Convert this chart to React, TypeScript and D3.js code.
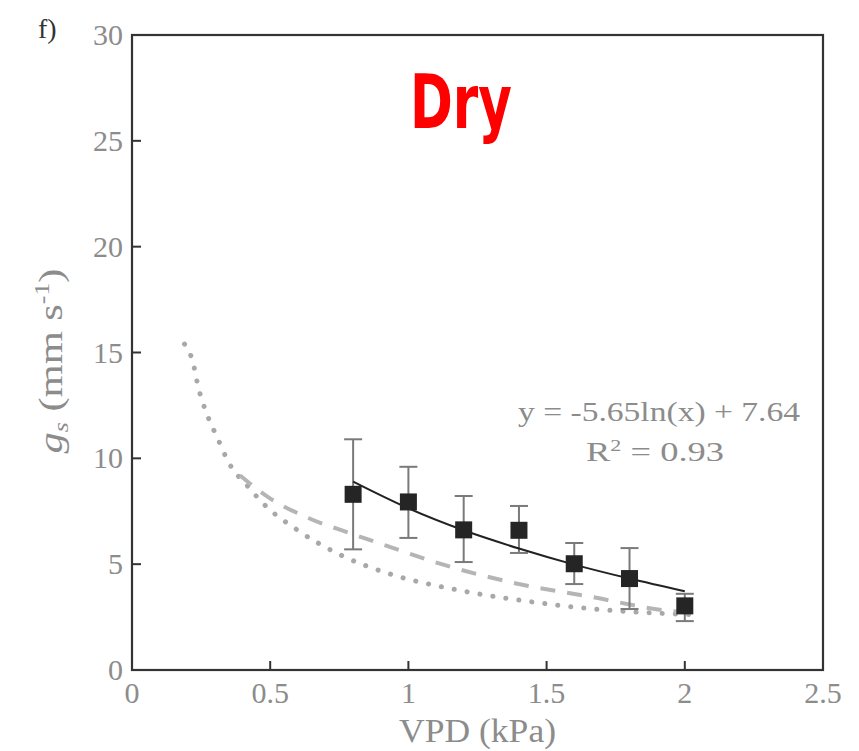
import React from 'react';
import * as d3 from 'd3';

// measured points (VPD, gs) with error bar limits
const vpd = [0.8, 1.0, 1.2, 1.4, 1.6, 1.8, 2.0];
const gsMean = [8.3, 7.94, 6.62, 6.6, 5.02, 4.32, 3.03];
const gsHigh = [10.9, 9.6, 8.22, 7.75, 6.0, 5.76, 3.6];
const gsLow = [5.7, 6.24, 5.1, 5.53, 4.06, 2.88, 2.31];

// fitted curve
const fitX = [0.8, 1.0, 1.2, 1.4, 1.6, 1.8, 2.0];
const fitY = [8.9, 7.64, 6.6, 5.74, 4.98, 4.32, 3.72];

// dashed reference curve
const dashX = [0.39, 0.49, 0.64, 0.79, 0.93, 1.12, 1.39, 1.66, 1.92, 2.02];
const dashY = [9.2, 8.19, 7.17, 6.46, 5.83, 5.0, 4.09, 3.46, 2.83, 2.7];

// dotted reference curve
const dotX = [0.19, 0.22, 0.24, 0.27, 0.31, 0.35, 0.42, 0.48, 0.6, 0.76, 0.93, 1.17, 1.44, 1.68, 1.85, 2.02];
const dotY = [15.4, 14.56, 13.35, 12.13, 10.94, 9.8, 8.66, 7.8, 6.6, 5.4, 4.55, 3.8, 3.23, 2.87, 2.72, 2.62];

const xTicks = [0, 0.5, 1, 1.5, 2, 2.5];
const yTicks = [0, 5, 10, 15, 20, 25, 30];

const W = 859;
const H = 751;
const left = 132;
const right = 823;
const top = 35;
const bottom = 670;

const App = () => {
  const x = d3.scaleLinear().domain([0, 2.5]).range([left, right]);
  const y = d3.scaleLinear().domain([0, 30]).range([bottom, top]);

  const line = d3.line<[number, number]>()
    .x(d => x(d[0]))
    .y(d => y(d[1]))
    .curve(d3.curveMonotoneX);

  const fitPath = line(fitX.map((v, i) => [v, fitY[i]]));
  const dashPath = line(dashX.map((v, i) => [v, dashY[i]]));
  const dotPath = line(dotX.map((v, i) => [v, dotY[i]]));

  const grey = '#8c8c8c';
  const axis = '#333';
  const serif = '"Liberation Serif", "Times New Roman", serif';

  return (
    <div style={{ position: 'absolute', left: 0, top: 0 }}>
      <svg width={W} height={H} style={{ display: 'block', background: '#fff' }}>
        {/* reference curves */}
        <path d={dotPath || ''} fill="none" stroke="#a8a8a8" strokeWidth={5}
          strokeDasharray="0.1 13" strokeLinecap="round" />
        <path d={dashPath || ''} fill="none" stroke="#b5b5b5" strokeWidth={4}
          strokeDasharray="15 12" />

        {/* error bars */}
        {vpd.map((v, i) => (
          <g key={'e' + i} stroke="#7a7a7a" strokeWidth={2}>
            <line x1={x(v)} x2={x(v)} y1={y(gsHigh[i])} y2={y(gsLow[i])} />
            <line x1={x(v) - 9} x2={x(v) + 9} y1={y(gsHigh[i])} y2={y(gsHigh[i])} />
            <line x1={x(v) - 9} x2={x(v) + 9} y1={y(gsLow[i])} y2={y(gsLow[i])} />
          </g>
        ))}

        {/* fit */}
        <path d={fitPath || ''} fill="none" stroke="#222" strokeWidth={2} />

        {/* points */}
        {vpd.map((v, i) => (
          <rect key={'p' + i} x={x(v) - 8.5} y={y(gsMean[i]) - 8.5} width={17} height={17} fill="#252525" />
        ))}

        {/* frame */}
        <rect x={left} y={top} width={right - left} height={bottom - top} fill="none" stroke={axis} strokeWidth={2.2} />
        {xTicks.map(t => (
          <g key={'xt' + t}>
            <line x1={x(t)} x2={x(t)} y1={bottom} y2={bottom - 9} stroke={axis} strokeWidth={2} />
            <text x={x(t)} y={703} textAnchor="middle" fontFamily={serif} fontSize={30} fill={grey}>{t}</text>
          </g>
        ))}
        {yTicks.map(t => (
          <g key={'yt' + t}>
            <line x1={left} x2={left + 9} y1={y(t)} y2={y(t)} stroke={axis} strokeWidth={2} />
            <text x={left - 9} y={y(t) + 10} textAnchor="end" fontFamily={serif} fontSize={30} fill={grey}>{t}</text>
          </g>
        ))}

        {/* axis titles */}
        <text x={(left + right) / 2} y={742} textAnchor="middle" fontFamily={serif} fontSize={33} fill={grey}
          textLength={157} lengthAdjust="spacingAndGlyphs">VPD (kPa)</text>
        <text transform="translate(62,361) rotate(-90)" textAnchor="middle" fontFamily={serif} fontSize={33} fill={grey}
          textLength={185} lengthAdjust="spacingAndGlyphs">
          <tspan fontStyle="italic">g</tspan>
          <tspan fontSize={20} fontStyle="italic" dy={6}>s</tspan>
          <tspan dy={-6}> (mm s</tspan>
          <tspan fontSize={20} dy={-13}>-1</tspan>
          <tspan dy={13}>)</tspan>
        </text>

        {/* panel letter */}
        <text x={38} y={38} fontFamily={serif} fontSize={28} fill="#333">f)</text>

        {/* condition */}
        <text x={410} y={128} fontFamily='"DejaVu Sans Condensed", "DejaVu Sans", sans-serif' fontWeight="bold"
          fontSize={74} fill="#ff0000" textLength={102} lengthAdjust="spacingAndGlyphs">Dry</text>

        {/* equation */}
        <text x={518} y={421} fontFamily={serif} fontSize={28} fill={grey}
          textLength={282} lengthAdjust="spacingAndGlyphs">y = -5.65ln(x) + 7.64</text>
        <text x={586} y={461} fontFamily={serif} fontSize={28} fill={grey}
          textLength={138} lengthAdjust="spacingAndGlyphs">
          R<tspan fontSize={17} dy={-10}>2</tspan><tspan dy={10}> = 0.93</tspan>
        </text>
      </svg>
    </div>
  );
};

export default App;
